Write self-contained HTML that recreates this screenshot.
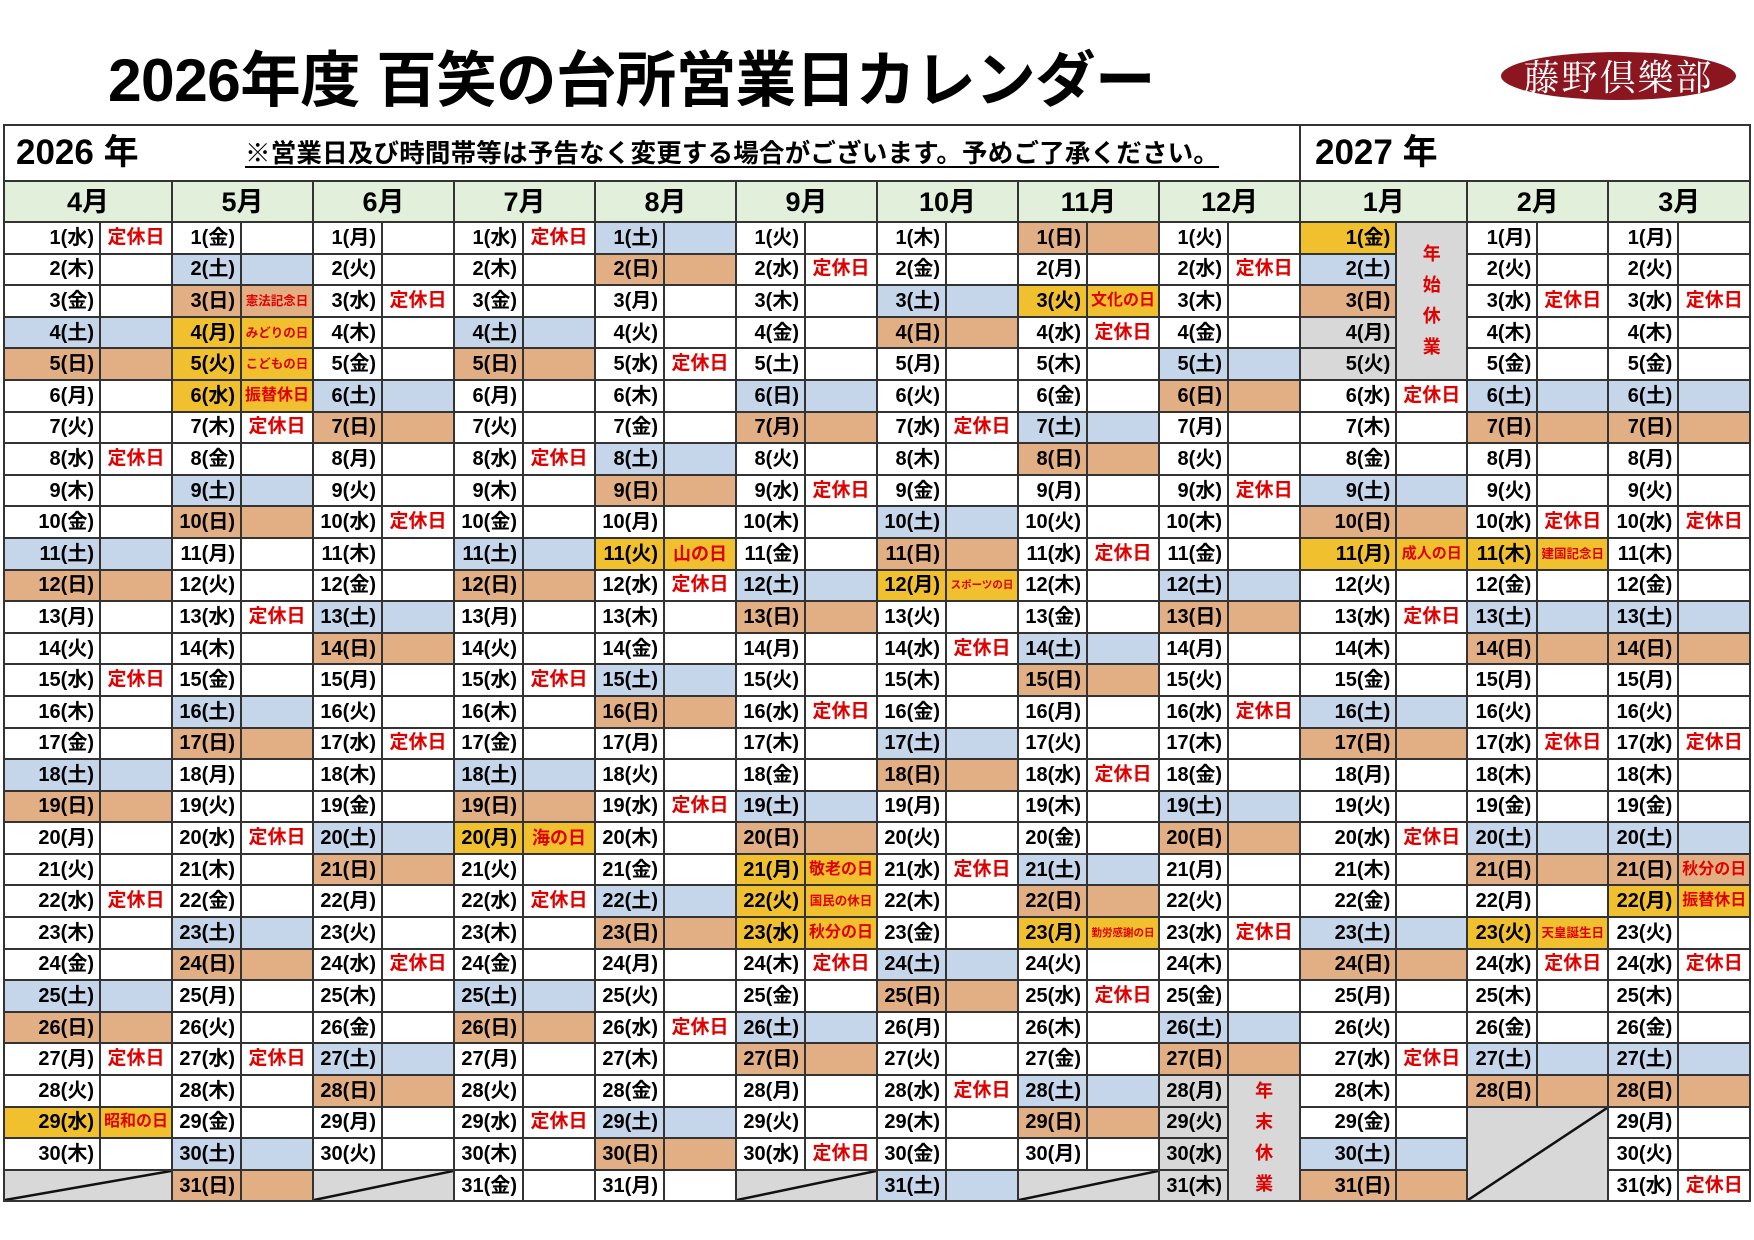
<!DOCTYPE html>
<html><head><meta charset="utf-8">
<style>
html,body{margin:0;padding:0;background:#fff;width:1754px;height:1240px;overflow:hidden;position:relative}
body{font-family:"Liberation Sans","Noto Sans CJK JP",sans-serif;font-weight:bold;color:#000}
.title{position:absolute;left:108px;top:44px;font-size:60.5px;line-height:72px;white-space:nowrap;letter-spacing:-0.6px}
.logo{position:absolute;left:1501px;top:52px;width:235px;height:48px;border-radius:50%;background:#8c1620;color:#fff;font-family:"Noto Serif CJK SC","Liberation Serif",serif;font-weight:normal;font-size:36px;line-height:48px;text-align:center;letter-spacing:2px}
table{position:absolute;left:3px;top:124px;width:1747px;border-collapse:collapse;table-layout:fixed}
td{border:2px solid #333;padding:0 5px 0 0;text-align:right;font-size:20px;line-height:20px;white-space:nowrap;overflow:hidden}
tr.d{height:31.6px}
tr.m td{height:39px;background:#e2efda;text-align:center;font-size:27px;padding:0}
tr.hd{height:56px}
.s{background:#c5d5ea}
.u{background:#e2ae84}
.h{background:#f0c02f}
.g{background:#d8d8d8}
.r{color:#e00000;text-align:center;padding:0;font-size:19px}
.f1{font-size:12.5px}
.f2{font-size:16px}
.f3{font-size:10.5px}
.f4{font-size:18px}
.f5{font-size:15px}
.v{background:#d8d8d8;color:#e00000;text-align:center;padding:0;font-size:18px;line-height:31px}
.x{background:linear-gradient(to top left,#d8d8d8 calc(50% - 1.5px),#111 calc(50% - 1px),#111 calc(50% + 1px),#d8d8d8 calc(50% + 1.5px))}
.y1{position:absolute;left:16px;top:130px;font-size:35px;line-height:46px}
.note{position:absolute;left:245px;top:138px;font-size:25.5px;line-height:32px;text-decoration:underline;text-underline-offset:4px;white-space:nowrap;letter-spacing:0.2px}
.y2{position:absolute;left:1315px;top:130px;font-size:35px;line-height:46px}
</style></head><body>
<div class="title">2026年度 百笑の台所営業日カレンダー</div>
<div class="logo">藤野倶樂部</div>
<table>
<colgroup><col style="width:96px"><col style="width:72px"><col style="width:69px"><col style="width:72px"><col style="width:69px"><col style="width:72px"><col style="width:69px"><col style="width:72px"><col style="width:69px"><col style="width:72px"><col style="width:69px"><col style="width:72px"><col style="width:69px"><col style="width:72px"><col style="width:69px"><col style="width:72px"><col style="width:69px"><col style="width:72px"><col style="width:96px"><col style="width:71px"><col style="width:70px"><col style="width:71px"><col style="width:70px"><col style="width:72px"></colgroup>
<tr class="hd"><td colspan="18"></td><td colspan="6"></td></tr>
<tr class="m"><td colspan="2">4月<td colspan="2">5月<td colspan="2">6月<td colspan="2">7月<td colspan="2">8月<td colspan="2">9月<td colspan="2">10月<td colspan="2">11月<td colspan="2">12月<td colspan="2">1月<td colspan="2">2月<td colspan="2">3月</tr>
<tr class="d"><td>1(水)<td class="r">定休日<td>1(金)<td><td>1(月)<td><td>1(水)<td class="r">定休日<td class="s">1(土)<td class="s"><td>1(火)<td><td>1(木)<td><td class="u">1(日)<td class="u"><td>1(火)<td><td class="h">1(金)<td rowspan="5" class="v">年<br>始<br>休<br>業<td>1(月)<td><td>1(月)<td></tr>
<tr class="d"><td>2(木)<td><td class="s">2(土)<td class="s"><td>2(火)<td><td>2(木)<td><td class="u">2(日)<td class="u"><td>2(水)<td class="r">定休日<td>2(金)<td><td>2(月)<td><td>2(水)<td class="r">定休日<td class="s">2(土)<td>2(火)<td><td>2(火)<td></tr>
<tr class="d"><td>3(金)<td><td class="u">3(日)<td class="u r f1">憲法記念日<td>3(水)<td class="r">定休日<td>3(金)<td><td>3(月)<td><td>3(木)<td><td class="s">3(土)<td class="s"><td class="h">3(火)<td class="h r f2">文化の日<td>3(木)<td><td class="u">3(日)<td>3(水)<td class="r">定休日<td>3(水)<td class="r">定休日</tr>
<tr class="d"><td class="s">4(土)<td class="s"><td class="h">4(月)<td class="h r f1">みどりの日<td>4(木)<td><td class="s">4(土)<td class="s"><td>4(火)<td><td>4(金)<td><td class="u">4(日)<td class="u"><td>4(水)<td class="r">定休日<td>4(金)<td><td class="g">4(月)<td>4(木)<td><td>4(木)<td></tr>
<tr class="d"><td class="u">5(日)<td class="u"><td class="h">5(火)<td class="h r f1">こどもの日<td>5(金)<td><td class="u">5(日)<td class="u"><td>5(水)<td class="r">定休日<td>5(土)<td><td>5(月)<td><td>5(木)<td><td class="s">5(土)<td class="s"><td class="g">5(火)<td>5(金)<td><td>5(金)<td></tr>
<tr class="d"><td>6(月)<td><td class="h">6(水)<td class="h r f2">振替休日<td class="s">6(土)<td class="s"><td>6(月)<td><td>6(木)<td><td class="s">6(日)<td class="s"><td>6(火)<td><td>6(金)<td><td class="u">6(日)<td class="u"><td>6(水)<td class="r">定休日<td class="s">6(土)<td class="s"><td class="s">6(土)<td class="s"></tr>
<tr class="d"><td>7(火)<td><td>7(木)<td class="r">定休日<td class="u">7(日)<td class="u"><td>7(火)<td><td>7(金)<td><td class="u">7(月)<td class="u"><td>7(水)<td class="r">定休日<td class="s">7(土)<td class="s"><td>7(月)<td><td>7(木)<td><td class="u">7(日)<td class="u"><td class="u">7(日)<td class="u"></tr>
<tr class="d"><td>8(水)<td class="r">定休日<td>8(金)<td><td>8(月)<td><td>8(水)<td class="r">定休日<td class="s">8(土)<td class="s"><td>8(火)<td><td>8(木)<td><td class="u">8(日)<td class="u"><td>8(火)<td><td>8(金)<td><td>8(月)<td><td>8(月)<td></tr>
<tr class="d"><td>9(木)<td><td class="s">9(土)<td class="s"><td>9(火)<td><td>9(木)<td><td class="u">9(日)<td class="u"><td>9(水)<td class="r">定休日<td>9(金)<td><td>9(月)<td><td>9(水)<td class="r">定休日<td class="s">9(土)<td class="s"><td>9(火)<td><td>9(火)<td></tr>
<tr class="d"><td>10(金)<td><td class="u">10(日)<td class="u"><td>10(水)<td class="r">定休日<td>10(金)<td><td>10(月)<td><td>10(木)<td><td class="s">10(土)<td class="s"><td>10(火)<td><td>10(木)<td><td class="u">10(日)<td class="u"><td>10(水)<td class="r">定休日<td>10(水)<td class="r">定休日</tr>
<tr class="d"><td class="s">11(土)<td class="s"><td>11(月)<td><td>11(木)<td><td class="s">11(土)<td class="s"><td class="h">11(火)<td class="h r f4">山の日<td>11(金)<td><td class="u">11(日)<td class="u"><td>11(水)<td class="r">定休日<td>11(金)<td><td class="h">11(月)<td class="h r f5">成人の日<td class="h">11(木)<td class="h r f1">建国記念日<td>11(木)<td></tr>
<tr class="d"><td class="u">12(日)<td class="u"><td>12(火)<td><td>12(金)<td><td class="u">12(日)<td class="u"><td>12(水)<td class="r">定休日<td class="s">12(土)<td class="s"><td class="h">12(月)<td class="h r f3">スポーツの日<td>12(木)<td><td class="s">12(土)<td class="s"><td>12(火)<td><td>12(金)<td><td>12(金)<td></tr>
<tr class="d"><td>13(月)<td><td>13(水)<td class="r">定休日<td class="s">13(土)<td class="s"><td>13(月)<td><td>13(木)<td><td class="u">13(日)<td class="u"><td>13(火)<td><td>13(金)<td><td class="u">13(日)<td class="u"><td>13(水)<td class="r">定休日<td class="s">13(土)<td class="s"><td class="s">13(土)<td class="s"></tr>
<tr class="d"><td>14(火)<td><td>14(木)<td><td class="u">14(日)<td class="u"><td>14(火)<td><td>14(金)<td><td>14(月)<td><td>14(水)<td class="r">定休日<td class="s">14(土)<td class="s"><td>14(月)<td><td>14(木)<td><td class="u">14(日)<td class="u"><td class="u">14(日)<td class="u"></tr>
<tr class="d"><td>15(水)<td class="r">定休日<td>15(金)<td><td>15(月)<td><td>15(水)<td class="r">定休日<td class="s">15(土)<td class="s"><td>15(火)<td><td>15(木)<td><td class="u">15(日)<td class="u"><td>15(火)<td><td>15(金)<td><td>15(月)<td><td>15(月)<td></tr>
<tr class="d"><td>16(木)<td><td class="s">16(土)<td class="s"><td>16(火)<td><td>16(木)<td><td class="u">16(日)<td class="u"><td>16(水)<td class="r">定休日<td>16(金)<td><td>16(月)<td><td>16(水)<td class="r">定休日<td class="s">16(土)<td class="s"><td>16(火)<td><td>16(火)<td></tr>
<tr class="d"><td>17(金)<td><td class="u">17(日)<td class="u"><td>17(水)<td class="r">定休日<td>17(金)<td><td>17(月)<td><td>17(木)<td><td class="s">17(土)<td class="s"><td>17(火)<td><td>17(木)<td><td class="u">17(日)<td class="u"><td>17(水)<td class="r">定休日<td>17(水)<td class="r">定休日</tr>
<tr class="d"><td class="s">18(土)<td class="s"><td>18(月)<td><td>18(木)<td><td class="s">18(土)<td class="s"><td>18(火)<td><td>18(金)<td><td class="u">18(日)<td class="u"><td>18(水)<td class="r">定休日<td>18(金)<td><td>18(月)<td><td>18(木)<td><td>18(木)<td></tr>
<tr class="d"><td class="u">19(日)<td class="u"><td>19(火)<td><td>19(金)<td><td class="u">19(日)<td class="u"><td>19(水)<td class="r">定休日<td class="s">19(土)<td class="s"><td>19(月)<td><td>19(木)<td><td class="s">19(土)<td class="s"><td>19(火)<td><td>19(金)<td><td>19(金)<td></tr>
<tr class="d"><td>20(月)<td><td>20(水)<td class="r">定休日<td class="s">20(土)<td class="s"><td class="h">20(月)<td class="h r f4">海の日<td>20(木)<td><td class="u">20(日)<td class="u"><td>20(火)<td><td>20(金)<td><td class="u">20(日)<td class="u"><td>20(水)<td class="r">定休日<td class="s">20(土)<td class="s"><td class="s">20(土)<td class="s"></tr>
<tr class="d"><td>21(火)<td><td>21(木)<td><td class="u">21(日)<td class="u"><td>21(火)<td><td>21(金)<td><td class="h">21(月)<td class="h r f2">敬老の日<td>21(水)<td class="r">定休日<td class="s">21(土)<td class="s"><td>21(月)<td><td>21(木)<td><td class="u">21(日)<td class="u"><td class="u">21(日)<td class="u r f2">秋分の日</tr>
<tr class="d"><td>22(水)<td class="r">定休日<td>22(金)<td><td>22(月)<td><td>22(水)<td class="r">定休日<td class="s">22(土)<td class="s"><td class="h">22(火)<td class="h r f1">国民の休日<td>22(木)<td><td class="u">22(日)<td class="u"><td>22(火)<td><td>22(金)<td><td>22(月)<td><td class="h">22(月)<td class="h r f2">振替休日</tr>
<tr class="d"><td>23(木)<td><td class="s">23(土)<td class="s"><td>23(火)<td><td>23(木)<td><td class="u">23(日)<td class="u"><td class="h">23(水)<td class="h r f2">秋分の日<td>23(金)<td><td class="h">23(月)<td class="h r f3">勤労感謝の日<td>23(水)<td class="r">定休日<td class="s">23(土)<td class="s"><td class="h">23(火)<td class="h r f1">天皇誕生日<td>23(火)<td></tr>
<tr class="d"><td>24(金)<td><td class="u">24(日)<td class="u"><td>24(水)<td class="r">定休日<td>24(金)<td><td>24(月)<td><td>24(木)<td class="r">定休日<td class="s">24(土)<td class="s"><td>24(火)<td><td>24(木)<td><td class="u">24(日)<td class="u"><td>24(水)<td class="r">定休日<td>24(水)<td class="r">定休日</tr>
<tr class="d"><td class="s">25(土)<td class="s"><td>25(月)<td><td>25(木)<td><td class="s">25(土)<td class="s"><td>25(火)<td><td>25(金)<td><td class="u">25(日)<td class="u"><td>25(水)<td class="r">定休日<td>25(金)<td><td>25(月)<td><td>25(木)<td><td>25(木)<td></tr>
<tr class="d"><td class="u">26(日)<td class="u"><td>26(火)<td><td>26(金)<td><td class="u">26(日)<td class="u"><td>26(水)<td class="r">定休日<td class="s">26(土)<td class="s"><td>26(月)<td><td>26(木)<td><td class="s">26(土)<td class="s"><td>26(火)<td><td>26(金)<td><td>26(金)<td></tr>
<tr class="d"><td>27(月)<td class="r">定休日<td>27(水)<td class="r">定休日<td class="s">27(土)<td class="s"><td>27(月)<td><td>27(木)<td><td class="u">27(日)<td class="u"><td>27(火)<td><td>27(金)<td><td class="u">27(日)<td class="u"><td>27(水)<td class="r">定休日<td class="s">27(土)<td class="s"><td class="s">27(土)<td class="s"></tr>
<tr class="d"><td>28(火)<td><td>28(木)<td><td class="u">28(日)<td class="u"><td>28(火)<td><td>28(金)<td><td>28(月)<td><td>28(水)<td class="r">定休日<td class="s">28(土)<td class="s"><td class="g">28(月)<td rowspan="4" class="v">年<br>末<br>休<br>業<td>28(木)<td><td class="u">28(日)<td class="u"><td class="u">28(日)<td class="u"></tr>
<tr class="d"><td class="h">29(水)<td class="h r f2">昭和の日<td>29(金)<td><td>29(月)<td><td>29(水)<td class="r">定休日<td class="s">29(土)<td class="s"><td>29(火)<td><td>29(木)<td><td class="u">29(日)<td class="u"><td class="g">29(火)<td>29(金)<td><td colspan="2" rowspan="3" class="x"><td>29(月)<td></tr>
<tr class="d"><td>30(木)<td><td class="s">30(土)<td class="s"><td>30(火)<td><td>30(木)<td><td class="u">30(日)<td class="u"><td>30(水)<td class="r">定休日<td>30(金)<td><td>30(月)<td><td class="g">30(水)<td class="s">30(土)<td class="s"><td>30(火)<td></tr>
<tr class="d"><td colspan="2" class="x"><td class="u">31(日)<td class="u"><td colspan="2" class="x"><td>31(金)<td><td>31(月)<td><td colspan="2" class="x"><td class="s">31(土)<td class="s"><td colspan="2" class="x"><td class="g">31(木)<td class="u">31(日)<td class="u"><td>31(水)<td class="r">定休日</tr>
</table>
<div class="y1">2026 年</div>
<div class="note">※営業日及び時間帯等は予告なく変更する場合がございます。予めご了承ください。</div>
<div class="y2">2027 年</div>
</body></html>
